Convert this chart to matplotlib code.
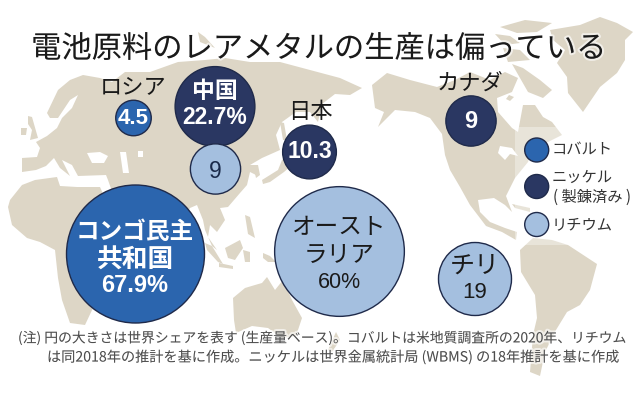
import numpy as np
import matplotlib
matplotlib.use("Agg")
import matplotlib.pyplot as plt
import matplotlib.patheffects as pe
from matplotlib.patches import Circle, Polygon, Rectangle

plt.rcParams["font.family"] = ["Noto Sans CJK JP", "DejaVu Sans"]

# shares
countries = ["コンゴ民主共和国", "ロシア", "中国", "日本", "カナダ", "中国Li", "オーストラリア", "チリ"]
metals = ["cobalt", "cobalt", "nickel", "nickel", "nickel", "lithium", "lithium", "lithium"]
shares = [67.9, 4.5, 22.7, 10.3, 9, 9, 60, 19]
centers_x = [135.5, 133.5, 215, 309.5, 471, 215.5, 339.5, 475]
centers_y = [254, 118, 106.5, 152, 121, 169, 251.5, 279]

metal_colors = {"cobalt": "#2b65ae", "nickel": "#2a3762", "lithium": "#a4bfdf"}
legend_metals = ["cobalt", "nickel", "lithium"]
legend_y = [150, 186.5, 224.5]

LAND = "#ddd6c6"
SUM = ["Liberation Sans", "Noto Sans CJK JP"]

# map outlines, traced in image pixels
eurasia = [(22,172),(22,158),(37,157),(40,148),(36,142),(47,136),(57,128),(62,118),(72,108),(78,95),(70,100),(58,118),(50,118),(47,113),(58,90),(70,80),(83,75),(100,78),
           (112,82),(125,72),(150,72),(178,62),(205,60),(225,58),(250,62),(280,62),(310,70),(340,78),(362,88),(350,95),(335,94),(322,104),(318,122),
           (310,112),(296,112),(282,122),(276,135),(280,150),(262,158),(250,165),(254,165),(258,176),(250,172),(247,185),(240,193),(228,207),(220,208),(225,220),(217,232),(210,225),(208,237),(217,250),(212,246),
           (205,230),(203,220),(197,205),(190,208),(182,222),(170,235),(160,205),(140,195),(115,200),(108,180),(106,175),(78,176),(72,165),(62,160),(70,176),(60,168),(54,158),(46,166),(36,170)]
africa = [(8,207),(10,200),(22,185),(35,180),(57,177),(60,186),(77,187),(100,187),(108,205),(130,240),(120,270),(100,300),(93,308),(85,325),(70,323),(62,300),(58,278),(55,250),(40,242),(27,238),(12,225)]
uk = [(28,116),(32,117),(38,138),(30,140),(32,130),(28,124)]
ireland = [(21,128),(27,128),(26,135),(21,135)]
novaya = [(198,32),(205,37),(215,48),(200,42)]
korea = [(253,165),(258,165),(260,175),(256,178)]
japan = [(262,180),(270,175),(278,170),(282,160),(300,150),(300,158),(284,172),(270,182),(263,184)]
sakhalin = [(280,122),(284,123),(287,140),(283,140)]
borneo = [(225,248),(240,240),(243,248),(235,260),(228,258)]
sumatra = [(205,243),(212,246),(223,264),(218,262),(207,250)]
java = [(219,263),(233,266),(233,269),(219,267)]
sulawesi = [(243,250),(250,252),(250,262),(245,262)]
philippines = [(245,215),(250,217),(255,238),(248,234)]
newguinea = [(263,253),(270,256),(276,262),(268,262),(263,258)]
australia = [(233,298),(245,288),(255,285),(262,283),(267,277),(275,290),(283,280),(292,300),(302,318),(296,336),(282,338),(268,328),(252,326),(236,333),(234,320)]
nz = [(336,332),(340,340),(332,352),(328,350)]
namerica = [(372,85),(387,73),(410,80),(437,87),(455,80),(470,72),(490,80),(505,72),(518,78),(512,92),(497,98),(498,112),(512,128),(518,132),(523,105),(535,105),
            (543,117),(552,122),(562,135),(548,142),(533,148),(528,162),(515,178),(506,196),(512,212),(505,205),(494,198),(478,200),
            (480,212),(490,222),(505,228),(517,232),(516,240),(502,232),(486,226),(470,205),(460,187),(450,170),(445,155),(442,134),(430,118),(415,112),(395,110),(378,127),(384,112),(375,108)]
ellesmere = [(500,27),(525,20),(552,23),(537,32),(517,33)]
arctic2 = [(495,34),(510,36),(520,43),(505,45)]
arctic3 = [(503,48),(520,50),(530,60),(508,62)]
baffin = [(512,64),(523,68),(540,80),(552,90),(543,98),(528,92)]
southampton = [(509,95),(514,97),(510,101),(506,99)]
greenland = [(550,30),(580,25),(600,17),(617,23),(633,32),(625,40),(625,60),(617,73),(600,87),(583,112),(568,93),(567,77),(557,63),(565,50),(553,40)]
samerica = [(520,250),(533,238),(552,240),(568,245),(597,264),(590,290),(580,305),(567,312),(556,330),(545,352),(540,376),(530,372),(533,335),(537,318),(535,295),(521,272)]
cuba = [(512,204),(530,208),(530,212),(515,208)]
land_shapes = [eurasia, africa, uk, ireland, novaya, korea, japan, sakhalin, borneo, sumatra, java, sulawesi, philippines,
               newguinea, australia, nz, namerica, ellesmere, arctic2, arctic3, baffin, southampton, greenland, samerica, cuba]

blacksea = [(87,153),(100,152),(108,156),(104,163),(92,163)]
caspian = [(120,152),(126,152),(129,173),(123,173)]
aral = [(138,151),(143,151),(143,157),(138,157)]
lakes = [(500,146),(512,148),(518,156),(510,154),(505,160),(498,153)]
water_shapes = [blacksea, caspian, aral, lakes]

fig = plt.figure(figsize=(6.38, 3.95), dpi=100)
ax = fig.add_axes([0, 0, 1, 1])
ax.set_xlim(0, 638)
ax.set_ylim(395, 0)
ax.axis("off")

for shape in land_shapes:
    ax.add_patch(Polygon(shape, closed=True, fc=LAND, ec="none", zorder=1))
for shape in water_shapes:
    ax.add_patch(Polygon(shape, closed=True, fc="white", ec="none", zorder=2))

# pale box behind the legend
ax.add_patch(Rectangle((515, 127), 123, 118, fc="white", ec="none", alpha=0.35, zorder=3))

scale = 69 / np.sqrt(67.9)
for x, y, share, metal in zip(centers_x, centers_y, shares, metals):
    ax.add_patch(Circle((x, y), scale * np.sqrt(share), fc=metal_colors[metal], ec="#1f2a4a", lw=1.0, zorder=4))
for y, metal in zip(legend_y, legend_metals):
    ax.add_patch(Circle((536.7, y), 12, fc=metal_colors[metal], ec="#1f2a4a", lw=1.0, zorder=4))

halo = [pe.withStroke(linewidth=3, foreground="white", alpha=0.6)]
ax.text(318.5, 49, "電池原料のレアメタルの生産は偏っている", fontsize=21.8, color="#1a1a1a", ha="center", va="center", zorder=6, path_effects=halo)

def label(x, y, s, size, color="#1a1a1a", bold=False, family=None):
    ax.text(x, y, s, fontsize=size, color=color, ha="center", va="center", zorder=6,
            fontweight="bold" if bold else "normal", family=family or plt.rcParams["font.family"])

label(133, 87, "ロシア", 16)
label(310, 112, "日本", 16)
label(470, 83, "カナダ", 16)

label(215, 91, "中国", 16.5, "white", True)
label(215, 117, "22.7%", 16.5, "white", True, SUM)
label(133.5, 119, "4.5", 16, "white", True, SUM)
label(309.5, 152, "10.3", 16.5, "white", True, SUM)
label(471, 121, "9", 17, "white", True, SUM)
label(215.5, 171, "9", 16.5, "#1a2a4a", False, SUM)

label(135, 232, "コンゴ民主", 17, "white", True)
label(135, 260, "共和国", 18.5, "white", True)
label(135, 285, "67.9%", 17, "white", True, SUM)

label(339.5, 228, "オースト", 17)
label(339.5, 255, "ラリア", 17)
label(339.5, 282, "60%", 15.5, "#1a1a1a", False, SUM)
label(475, 266, "チリ", 18)
label(475, 293, "19", 16, "#1a1a1a", False, SUM)

legend_names = ["コバルト", "ニッケル", "( 製錬済み )", "リチウム"]
legend_text_y = [149, 177, 197, 225]
legend_text_x = [552, 552, 553, 552]
legend_sizes = [11, 11, 11, 11]
for x, y, s, size in zip(legend_text_x, legend_text_y, legend_names, legend_sizes):
    ax.text(x, y, s, fontsize=size, color="#333333", ha="left", va="center", zorder=6)

note1 = "(注) 円の大きさは世界シェアを表す (生産量ベース)。コバルトは米地質調査所の2020年、リチウム"
note2 = "は同2018年の推計を基に作成。ニッケルは世界金属統計局 (WBMS) の18年推計を基に作成"
ax.text(18, 338, note1, fontsize=9.95, color="#4d4d4d", ha="left", va="center", zorder=6, path_effects=halo)
ax.text(47, 357, note2, fontsize=10.2, color="#4d4d4d", ha="left", va="center", zorder=6, path_effects=halo)

fig.savefig("out.png", dpi=100)
